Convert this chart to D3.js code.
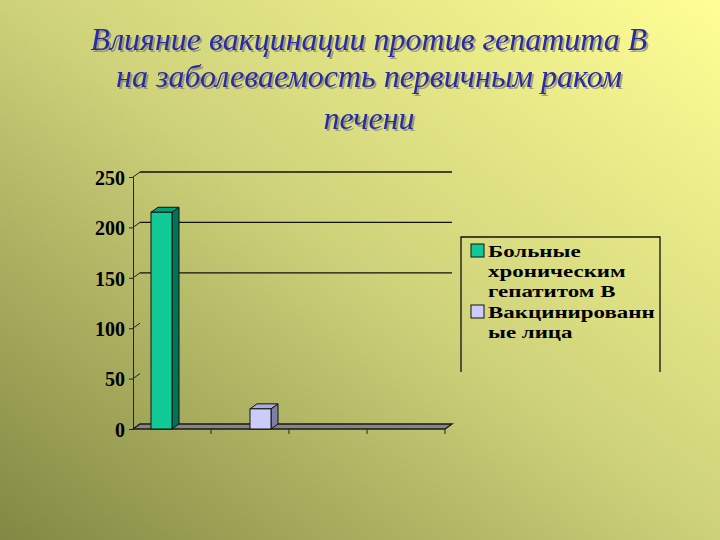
<!DOCTYPE html>
<html>
<head>
<meta charset="utf-8">
<script src="https://cdn.jsdelivr.net/npm/d3@7"></script>
<style>
  html, body { margin: 0; padding: 0; }
  svg { display: block; }
</style>
</head>
<body>
<svg id="chart" width="720" height="540"></svg>
<script>
const titleLines = ['Влияние вакцинации против гепатита В', 'на заболеваемость первичным раком', 'печени'];
const categories = ['c1', 'c2', 'c3', 'c4'];
const seriesNames = ['Больные хроническим гепатитом В', 'Вакцинированные лица'];
const legendLines = [['Больные', 'хроническим', 'гепатитом В'], ['Вакцинированн', 'ые лица']];
const sickValues = [215, null, null, null];
const vaccinatedValues = [null, 20, null, null];
const yTicks = [0, 50, 100, 150, 200, 250];
const gridValues = [150, 200, 250];

const faces = [
  { front: '#12CA98', side: '#007358', top: '#00A07B' },
  { front: '#CCCCF8', side: '#7E7EA6', top: '#AAAADC' }
];

const svg = d3.select('#chart');
const W = 720, H = 540;
const depth = { dx: 7, dy: -5 };
const serif = '"Liberation Serif", "Times New Roman", serif';

// background
const defs = svg.append('defs');
const grad = defs.append('linearGradient')
  .attr('id', 'bg')
  .attr('x1', '100%').attr('y1', '0%')
  .attr('x2', '0%').attr('y2', '100%');
grad.append('stop').attr('offset', '0%').attr('stop-color', '#FFFF95');
grad.append('stop').attr('offset', '50%').attr('stop-color', '#CDD179');
grad.append('stop').attr('offset', '100%').attr('stop-color', '#828843');
svg.append('rect').attr('width', W).attr('height', H).attr('fill', 'url(#bg)');

const shadow = defs.append('filter').attr('id', 'shadow')
  .attr('x', '-5%').attr('y', '-20%').attr('width', '110%').attr('height', '140%');
shadow.append('feDropShadow')
  .attr('dx', 2).attr('dy', 2).attr('stdDeviation', 0.4)
  .attr('flood-color', '#66666a').attr('flood-opacity', 0.55);

// title
const titleY = [50, 87, 129];
svg.append('g')
  .attr('font-family', serif)
  .attr('font-style', 'italic')
  .attr('font-size', 32)
  .attr('text-anchor', 'middle')
  .attr('fill', '#2B2BA6')
  .attr('filter', 'url(#shadow)')
  .selectAll('text')
  .data(titleLines)
  .enter()
  .append('text')
  .attr('x', 369)
  .attr('y', (d, i) => titleY[i])
  .text(d => d);

// scales
const x0 = d3.scaleBand().domain(categories).range([133, 445]);
const x1 = d3.scaleBand().domain([0, 1]).range([0, x0.bandwidth()]).paddingOuter(0.857);
const y = d3.scaleLinear().domain([0, 250]).range([429, 177]);

const g = svg.append('g');

// floor
const left = x0.range()[0], right = x0.range()[1];
g.append('polygon')
  .attr('points', [[left, y(0)], [right, y(0)], [right + depth.dx, y(0) + depth.dy], [left + depth.dx, y(0) + depth.dy]].join(' '))
  .attr('fill', '#858585')
  .attr('stroke', '#1a1a1a')
  .attr('stroke-width', 1.3);

// gridlines on back wall
g.selectAll('.grid')
  .data(gridValues)
  .enter()
  .append('line')
  .attr('x1', left + depth.dx)
  .attr('x2', right + depth.dx)
  .attr('y1', d => y(d) + depth.dy)
  .attr('y2', d => y(d) + depth.dy)
  .attr('stroke', '#111')
  .attr('stroke-width', 1.3);

// diagonal connectors on side wall
g.selectAll('.diag')
  .data(yTicks)
  .enter()
  .append('line')
  .attr('x1', left)
  .attr('x2', left + depth.dx)
  .attr('y1', d => y(d))
  .attr('y2', d => y(d) + depth.dy)
  .attr('stroke', '#222')
  .attr('stroke-width', 1);

// y axis
const yAxis = g.append('g')
  .attr('transform', `translate(${left},0)`)
  .call(d3.axisLeft(y).tickValues(yTicks).tickSize(4).tickPadding(4));
yAxis.select('.domain').attr('stroke', '#222');
yAxis.selectAll('line').attr('stroke', '#222');
yAxis.selectAll('text')
  .attr('font-family', serif)
  .attr('font-weight', 'bold')
  .attr('font-size', 20)
  .attr('fill', '#000')
  .attr('dy', '0.36em');

// x category ticks
g.selectAll('.xtick')
  .data(categories)
  .enter()
  .append('line')
  .attr('x1', d => x0(d) + x0.bandwidth())
  .attr('x2', d => x0(d) + x0.bandwidth())
  .attr('y1', y(0))
  .attr('y2', y(0) + 5)
  .attr('stroke', '#222');

// bars
const barData = [];
[sickValues, vaccinatedValues].forEach((vals, s) => {
  vals.forEach((v, i) => {
    if (v != null) barData.push({ s, cat: categories[i], v });
  });
});
g.selectAll('.bar')
  .data(barData)
  .enter()
  .append('g')
  .each(function(d) {
    const gb = d3.select(this);
    const xl = x0(d.cat) + x1(d.s), xr = xl + x1.bandwidth();
    const yt = y(d.v), yb = y(0);
    const dx = depth.dx, dy = depth.dy;
    gb.append('polygon')
      .attr('points', [[xr, yb], [xr + dx, yb + dy], [xr + dx, yt + dy], [xr, yt]].join(' '))
      .attr('fill', faces[d.s].side).attr('stroke', '#111').attr('stroke-width', 1);
    gb.append('polygon')
      .attr('points', [[xl, yt], [xr, yt], [xr + dx, yt + dy], [xl + dx, yt + dy]].join(' '))
      .attr('fill', faces[d.s].top).attr('stroke', '#111').attr('stroke-width', 1);
    gb.append('rect')
      .attr('x', xl).attr('y', yt)
      .attr('width', xr - xl).attr('height', yb - yt)
      .attr('fill', faces[d.s].front).attr('stroke', '#111').attr('stroke-width', 1);
  });

// legend
const legend = svg.append('g');
legend.append('path')
  .attr('d', 'M461,372 L461,237 L660,237 L660,372')
  .attr('fill', 'none')
  .attr('stroke', '#111')
  .attr('stroke-width', 1.3);
const legendTop = [257, 318];
seriesNames.forEach((name, s) => {
  legend.append('rect')
    .attr('x', 471).attr('y', legendTop[s] - 13)
    .attr('width', 13).attr('height', 13)
    .attr('fill', faces[s].front)
    .attr('stroke', '#111');
  legend.append('text')
    .attr('transform', `translate(488,${legendTop[s]}) scale(1.39,1)`)
    .attr('font-family', serif)
    .attr('font-weight', 'bold')
    .attr('font-size', 16.5)
    .attr('fill', '#000')
    .selectAll('tspan')
    .data(legendLines[s])
    .enter()
    .append('tspan')
    .attr('x', 0)
    .attr('dy', (d, i) => i ? 20 : 0)
    .text(d => d);
});
</script>
</body>
</html>
